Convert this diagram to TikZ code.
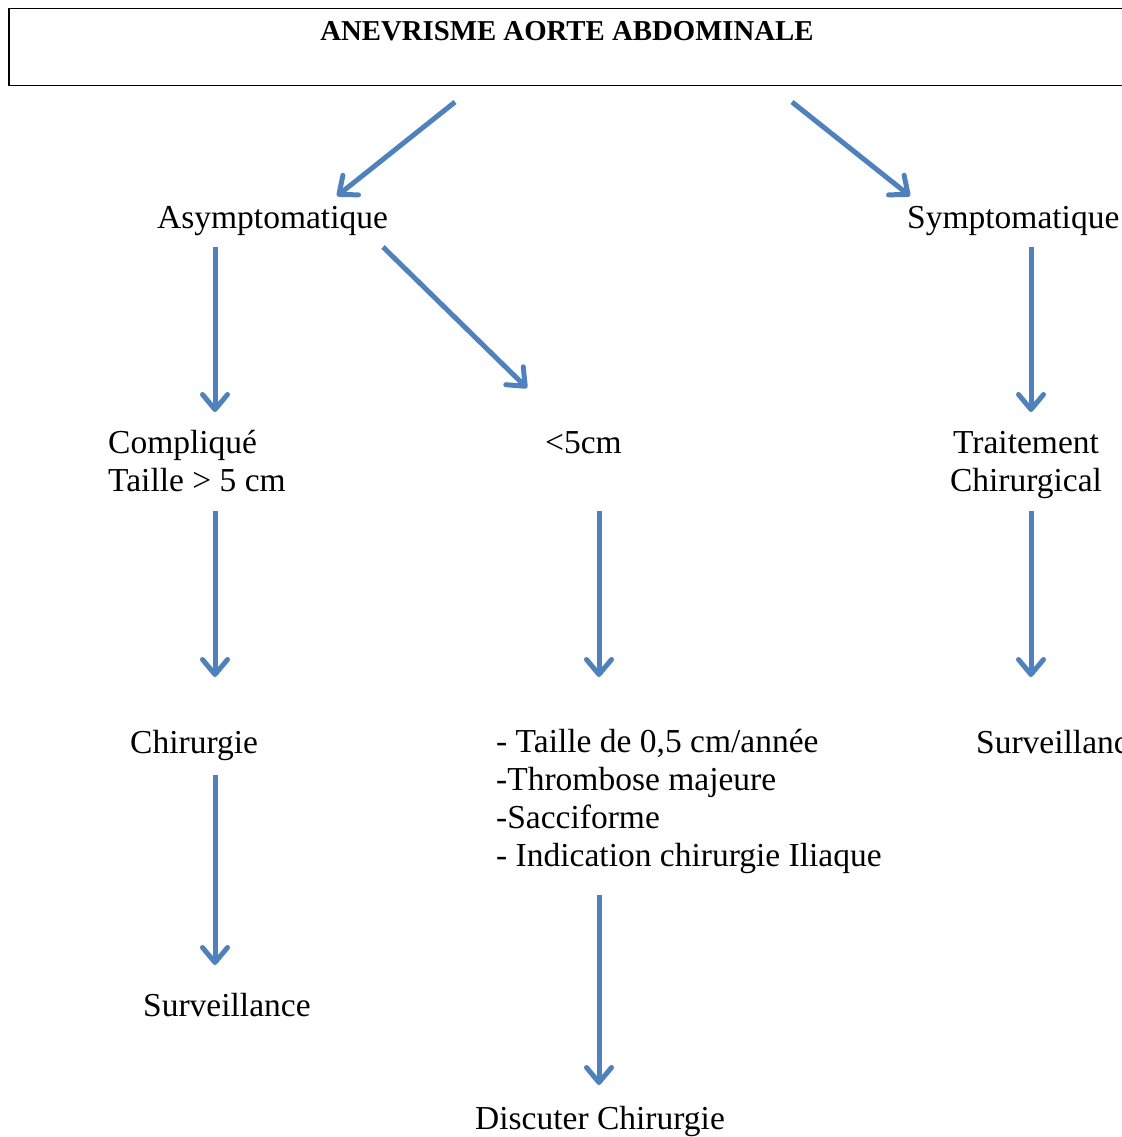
\documentclass[tikz,border=0pt]{standalone}
\usepackage{fontspec}
\setmainfont{Liberation Serif}
\usetikzlibrary{arrows.meta}

\definecolor{flowblue}{HTML}{4F81BD}

\tikzset{
  flow/.style={draw=flowblue, line width=5pt, -{Straight Barb[length=15pt,width=25pt,line cap=round,line join=round]}},
  txt/.style={inner sep=0pt, font=\fontsize{33.5}{37.7}\selectfont, anchor=base west, align=left},
}

\begin{document}
\begin{tikzpicture}[x=1pt,y=-1pt]
\useasboundingbox (0,0) rectangle (1121,1137);

% title
\node[draw, line width=1.5pt, minimum width=1125pt, minimum height=77pt, anchor=north west, inner sep=0pt] (box) at (8,8) {};
\node[inner sep=0pt, anchor=base, font=\fontsize{28.8}{30}\selectfont\bfseries] (title) at (567,41) {ANEVRISME AORTE ABDOMINALE};

% nodes (multi-line ones sit on their last baseline)
\node[txt] (asym) at (157,228) {Asymptomatique};
\node[txt] (sym) at (907,228) {Symptomatique};
\node[txt] (comp) at (108,491) {Compliqué\\Taille > 5 cm};
\node[txt] (small) at (545,453) {<5cm};
\node[txt, align=center, anchor=base] (trait) at (1026,491) {Traitement\\Chirurgical};
\node[txt] (chir) at (130,753) {Chirurgie};
\node[txt] (crit) at (496,866) {- Taille de 0,5 cm/année\\-Thrombose majeure\\-Sacciforme\\- Indication chirurgie Iliaque};
\node[txt] (surv) at (976,753) {Surveillance};
\node[txt] (survb) at (143,1016) {Surveillance};
\node[txt] (disc) at (475,1129) {Discuter Chirurgie};

% arrow ends
\coordinate (a1s) at (455,102);  \coordinate (a1e) at (337,196);
\coordinate (a2s) at (792,102);  \coordinate (a2e) at (910,196);
\coordinate (a3s) at (215,247);  \coordinate (a3e) at (215,412);
\coordinate (a4s) at (383,247);  \coordinate (a4e) at (527,388);
\coordinate (a5s) at (1031,247); \coordinate (a5e) at (1031,412);
\coordinate (a6s) at (215,511);  \coordinate (a6e) at (215,677);
\coordinate (a7s) at (599,511);  \coordinate (a7e) at (599,677);
\coordinate (a8s) at (1031,511); \coordinate (a8e) at (1031,677);
\coordinate (a9s) at (215,775);  \coordinate (a9e) at (215,965);
\coordinate (a10s) at (599,895); \coordinate (a10e) at (599,1085);

\foreach \i in {1,...,10} {\draw[flow] (a\i s) -- (a\i e);}
\end{tikzpicture}
\end{document}
